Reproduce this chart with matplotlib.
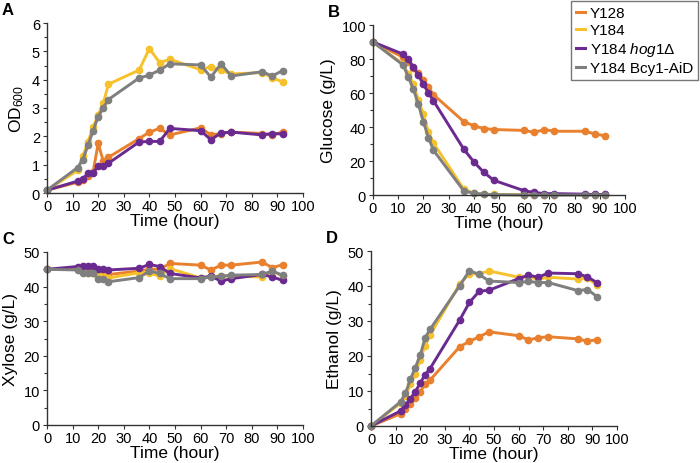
import matplotlib
matplotlib.use("Agg")
import matplotlib.pyplot as plt
from matplotlib.ticker import MultipleLocator
from matplotlib.lines import Line2D

plt.rcParams["font.family"] = ["Liberation Sans", "DejaVu Sans"]
plt.rcParams["mathtext.fontset"] = "custom"
plt.rcParams["mathtext.rm"] = "Liberation Sans"
plt.rcParams["mathtext.it"] = "Liberation Sans:italic"

time_h = [0, 12, 14, 16, 18, 20, 22, 24, 36, 40, 44, 48, 60, 64, 68, 72, 84, 88, 92]

strains = ["Y128", "Y184", "Y184 $\\mathit{hog1Δ}$", "Y184 Bcy1-AiD"]
colors = ["#E9802E", "#F6C12B", "#6A2A90", "#7F7F7F"]

od600 = [
    [0.1, 0.38, 0.45, 0.6, 0.75, 1.75, 1.12, 1.26, 1.92, 2.15, 2.28, 2.05, 2.3, 2.05, 2.1, 2.15, 2.1, 2.05, 2.15],
    [0.1, 0.8, 1.3, 1.8, 2.33, 2.75, 3.18, 3.84, 4.34, 5.1, 4.6, 4.72, 4.35, 4.46, 4.33, 4.2, 4.25, 4.07, 3.92],
    [0.1, 0.42, 0.5, 0.7, 0.72, 0.95, 0.95, 1.05, 1.8, 1.82, 1.82, 2.28, 2.2, 1.88, 2.12, 2.15, 2.05, 2.1, 2.08],
    [0.1, 0.9, 1.18, 1.68, 2.19, 2.7, 3.01, 3.3, 4.06, 4.16, 4.34, 4.56, 4.52, 4.09, 4.56, 4.13, 4.28, 4.13, 4.32],
]

glucose = [
    [90, 81, 78, 75, 72, 67.5, 63.3, 59, 43.2, 40.7, 39.1, 38.5, 38, 36.8, 38.5, 37.5, 37.5, 36, 34.8],
    [90, 77, 71, 65.2, 56, 47.5, 37, 30.5, 3.5, 1, 0.5, 0.3, 0.2, 0.2, 0.2, 0.2, 0.2, 0.2, 0.2],
    [90, 82.8, 79.8, 75.3, 70.5, 65.2, 60, 55.4, 27, 19.5, 13.3, 8.6, 2.5, 1.5, 0.8, 0.8, 0.5, 0.3, 0.3],
    [90, 76.4, 69.5, 62.3, 53.4, 43, 33.8, 26.3, 2.5, 1, 0.5, 0.2, 0, 0, 0, 0, 0, 0, 0],
]

xylose = [
    [45, 45, 44.5, 44.5, 44, 43.5, 44, 43.5, 44.5, 45, 45, 46.7, 46.2, 44.8, 46.2, 46.2, 47.1, 45.5, 46.3],
    [45, 45, 44.5, 44, 44, 43, 43, 42.5, 44, 44, 43, 45.2, 42.5, 43, 43, 43, 42.8, 44.5, 43],
    [45, 45.8, 46, 46, 46, 45.1, 45.1, 44.8, 45.3, 46.4, 45.8, 43.8, 42.5, 43, 41.6, 42.3, 43.5, 42.8, 41.8],
    [45, 44.8, 44, 44, 43.8, 42.3, 42.3, 41.4, 42.6, 44.5, 43.8, 42.3, 42.3, 42.8, 43, 43.3, 43.5, 44.5, 43.3],
]

ethanol = [
    [0, 3.5, 4.8, 6.2, 7.9, 9.8, 12, 13.1, 22.6, 24.2, 25.5, 26.9, 25.8, 24.6, 25.2, 25.5, 24.9, 24.2, 24.7],
    [0, 6.5, 8.5, 12, 15, 19, 23, 26, 40.5, 43.5, 43.5, 44.3, 42.5, 42.5, 42, 42.5, 42, 42.3, 40.2],
    [0, 4.3, 6, 7.8, 9.8, 12.2, 14.7, 16.4, 30.2, 35.3, 38.5, 38.8, 42.1, 43.1, 42.5, 43.7, 43.5, 42.6, 40.9],
    [0, 6.9, 9.3, 13.3, 16.7, 20.2, 25.2, 27.6, 40, 44.4, 43.3, 41.4, 41, 41.3, 41, 41, 38.7, 39, 36.9],
]

panels = [
    ("A", od600, "OD$_{600}$", 6, 1),
    ("B", glucose, "Glucose (g/L)", 100, 20),
    ("C", xylose, "Xylose (g/L)", 50, 10),
    ("D", ethanol, "Ethanol (g/L)", 50, 10),
]

# axes boxes in pixels: left, top, right, bottom
boxes = [
    (47, 24, 303, 194),
    (373, 26, 625, 196),
    (47, 253, 303, 426),
    (371, 252, 617, 427),
]

W, H = 700, 464
fig = plt.figure(figsize=(7, 4.64), dpi=100)

for (letter, data, ylabel, ymax, ystep), (l, t, r, b) in zip(panels, boxes):
    ax = fig.add_axes([l / W, 1 - b / H, (r - l) / W, (b - t) / H])
    for vals, c in zip(data, colors):
        ax.plot(time_h, vals, color=c, lw=2.1, marker="o", ms=4.5, clip_on=False)
    ax.set_xlim(0, 100)
    ax.set_ylim(0, ymax)
    ax.xaxis.set_major_locator(MultipleLocator(10))
    ax.yaxis.set_major_locator(MultipleLocator(ystep))
    ax.yaxis.set_minor_locator(MultipleLocator(ystep / 2))
    for s in ["top", "right"]:
        ax.spines[s].set_visible(False)
    for s in ["left", "bottom"]:
        ax.spines[s].set_color("#333333")
        ax.spines[s].set_linewidth(1.0)
    ax.tick_params(which="major", length=3, width=0.8, color="#333333",
                   labelsize=10.5, pad=2)
    ax.tick_params(axis="x", which="major", pad=1.5)
    ax.tick_params(which="minor", length=2, width=0.8, color="#333333")
    ax.set_xlabel("Time (hour)", fontsize=12.5, labelpad=0)
    ax.set_ylabel(ylabel, fontsize=12.5, labelpad=4)
    fig.text((l - 45) / W, 1 - (t - 21) / H, letter, fontsize=12,
             fontweight="bold", va="top", ha="left")

handles = [Line2D([0], [0], color=c, lw=2.2) for c in colors]
fig.legend(handles, strains, loc="upper right", bbox_to_anchor=(1.0, 1.0),
           frameon=True, fancybox=False, edgecolor="#555555", fontsize=11,
           handlelength=0.6, handletextpad=0.3, labelspacing=0.2,
           borderpad=0.35, borderaxespad=0.1)

fig.savefig("out.png", dpi=100)
